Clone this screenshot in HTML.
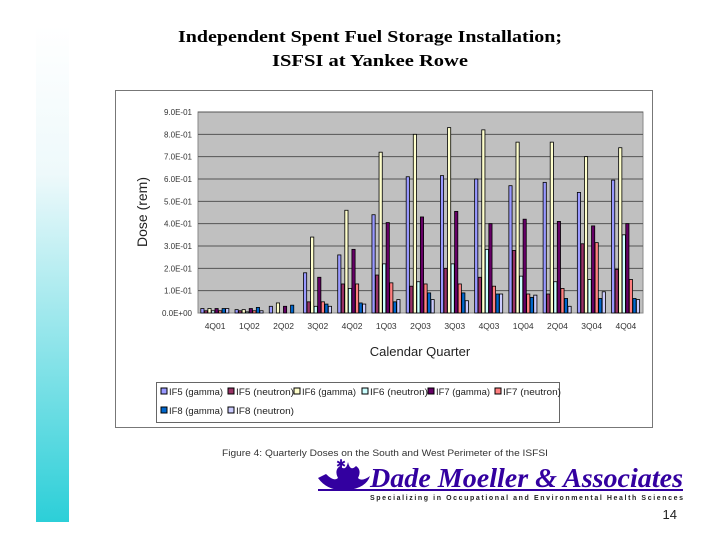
<!DOCTYPE html>
<html><head><meta charset="utf-8"><style>body{margin:0;background:#fff}svg{display:block}</style></head>
<body>
<svg id="s" width="720" height="540" viewBox="0 0 720 540" xmlns="http://www.w3.org/2000/svg" font-family="Liberation Sans, sans-serif">
<defs><linearGradient id="g" x1="0" y1="0" x2="0" y2="1"><stop offset="0" stop-color="#ffffff"/><stop offset="0.3" stop-color="#eef9fb"/><stop offset="1" stop-color="#2ccfd8"/></linearGradient></defs>
<rect x="36" y="25" width="33" height="497" fill="url(#g)"/>
<text x="370" y="42" text-anchor="middle" font-family="Liberation Serif, serif" font-weight="bold" font-size="17" textLength="384" lengthAdjust="spacingAndGlyphs">Independent Spent Fuel Storage Installation;</text>
<text x="370" y="66" text-anchor="middle" font-family="Liberation Serif, serif" font-weight="bold" font-size="17" textLength="196" lengthAdjust="spacingAndGlyphs">ISFSI at Yankee Rowe</text>
<rect x="115.5" y="90.5" width="537" height="337" fill="#fff" stroke="#777"/>
<rect x="198" y="112" width="445" height="201" fill="#c0c0c0" stroke="#888"/>
<g id="grid"></g>
<g id="bars"></g>
<g id="yt" font-size="8" fill="#333" text-anchor="end"></g>
<g id="xt" font-size="8.5" fill="#333" text-anchor="middle"></g>
<text transform="translate(147,212) rotate(-90)" text-anchor="middle" font-size="14" fill="#222">Dose (rem)</text>
<text x="420" y="356" text-anchor="middle" font-size="13" fill="#222">Calendar Quarter</text>
<rect x="156.5" y="382.5" width="403" height="40" fill="#fff" stroke="#666"/>
<g id="leg" font-size="9" fill="#222"></g>
<text x="222" y="456" font-size="9" fill="#333" textLength="326" lengthAdjust="spacingAndGlyphs">Figure 4: Quarterly Doses on the South and West Perimeter of the ISFSI</text>
<g>
<path d="M318 478 q10 14 30 12 q18 -2 22 -14 q-8 6 -12 2 q4 -8 -2 -12 q-6 6 -8 -4 q-2 10 -8 4 q-6 4 -2 12 q-4 4 -12 -4 z" fill="#3300a0"/>
<text x="341" y="468" text-anchor="middle" font-size="12" fill="#3300a0">✱</text>
<text x="370" y="487" font-family="Liberation Serif, serif" font-weight="bold" font-style="italic" font-size="27" fill="#3300a0" textLength="313" lengthAdjust="spacingAndGlyphs">Dade Moeller &amp; Associates</text>
<rect x="318" y="489" width="365" height="2" fill="#3300a0"/>
<text x="370" y="500" font-family="Liberation Sans, sans-serif" font-weight="bold" font-size="7" fill="#222" textLength="313" lengthAdjust="spacing">Specializing in Occupational and Environmental Health Sciences</text>
</g>
<text x="677" y="519" text-anchor="end" font-size="13" fill="#222">14</text>
</svg>
<script>
const categories=["4Q01","1Q02","2Q02","3Q02","4Q02","1Q03","2Q03","3Q03","4Q03","1Q04","2Q04","3Q04","4Q04"];
const seriesNames=["IF5 (gamma)","IF5 (neutron)","IF6 (gamma)","IF6 (neutron)","IF7 (gamma)","IF7 (neutron)","IF8 (gamma)","IF8 (neutron)"];
const if5g=[0.02,0.015,0.03,0.18,0.26,0.44,0.61,0.615,0.60,0.57,0.585,0.54,0.595];
const if5n=[0.01,0.01,0,0.05,0.13,0.17,0.12,0.20,0.16,0.28,0.085,0.31,0.195];
const if6g=[0.02,0.015,0.045,0.34,0.46,0.72,0.80,0.83,0.82,0.765,0.765,0.70,0.74];
const if6n=[0.01,0.005,0,0.03,0.11,0.22,0.14,0.22,0.285,0.165,0.14,0.15,0.35];
const if7g=[0.02,0.02,0.03,0.16,0.285,0.405,0.43,0.455,0.40,0.42,0.41,0.39,0.40];
const if7n=[0.01,0.01,0,0.05,0.13,0.135,0.13,0.13,0.12,0.085,0.11,0.315,0.15];
const if8g=[0.02,0.025,0.035,0.04,0.045,0.05,0.09,0.09,0.085,0.07,0.065,0.065,0.065];
const if8n=[0.02,0.01,0,0.03,0.04,0.06,0.06,0.055,0.085,0.08,0.03,0.095,0.06];
const yTicks=[0,0.1,0.2,0.3,0.4,0.5,0.6,0.7,0.8,0.9];
const yTickLabels=["0.0E+00","1.0E-01","2.0E-01","3.0E-01","4.0E-01","5.0E-01","6.0E-01","7.0E-01","8.0E-01","9.0E-01"];
const series=[if5g,if5n,if6g,if6n,if7g,if7n,if8g,if8n];
const colors=["#9999ff","#993366","#ffffcc","#ccffff","#660066","#ff8080","#0066cc","#ccccff"];
const NS="http://www.w3.org/2000/svg";
const X0=198,X1=643,Y0=313,Y1=112;
const yS=v=>Y0-(v/0.9)*(Y0-Y1);
const gw=(X1-X0)/categories.length;
const xS=(i,k)=>X0+i*gw+2.8+k*3.55;
function mk(t,a,p){const e=document.createElementNS(NS,t);for(const k in a)e.setAttribute(k,a[k]);p.appendChild(e);return e;}
const grid=document.getElementById('grid'),yt=document.getElementById('yt'),xt=document.getElementById('xt'),bars=document.getElementById('bars'),leg=document.getElementById('leg');
yTicks.forEach((v,i)=>{
 if(v>0){const l=mk('line',{x1:X0,x2:X1,y1:yS(v),y2:yS(v),stroke:'#555','stroke-width':1},grid);
 
 }
 const t=mk('text',{x:X0-6,y:yS(v)+3},yt);t.textContent=yTickLabels[i];
 
 
});
categories.forEach((c,i)=>{
 const t=mk('text',{x:X0+(i+0.5)*gw,y:Y0+16},xt);t.textContent=c;
 
 
 series.forEach((s,k)=>{
  const v=s[i];if(v<=0)return;
  const r=mk('rect',{x:xS(i,k),y:yS(v),width:3.2,height:Y0-yS(v),fill:colors[k],stroke:'#000','stroke-width':0.8},bars);
  
  
 });
});
const lx=[161,228,294,362,428,495,161,228],ly=[395,395,395,395,395,395,414,414],lw=[54,58,54,58,54,58,54,58];
seriesNames.forEach((n,k)=>{
 const r=mk('rect',{x:lx[k],y:ly[k]-7,width:6,height:6,fill:colors[k],stroke:'#000','stroke-width':1},leg);
 
 
 const t=mk('text',{x:lx[k]+8,y:ly[k],textLength:lw[k],lengthAdjust:'spacingAndGlyphs'},leg);t.textContent=n;
 
 
});
</script>
</body></html>
